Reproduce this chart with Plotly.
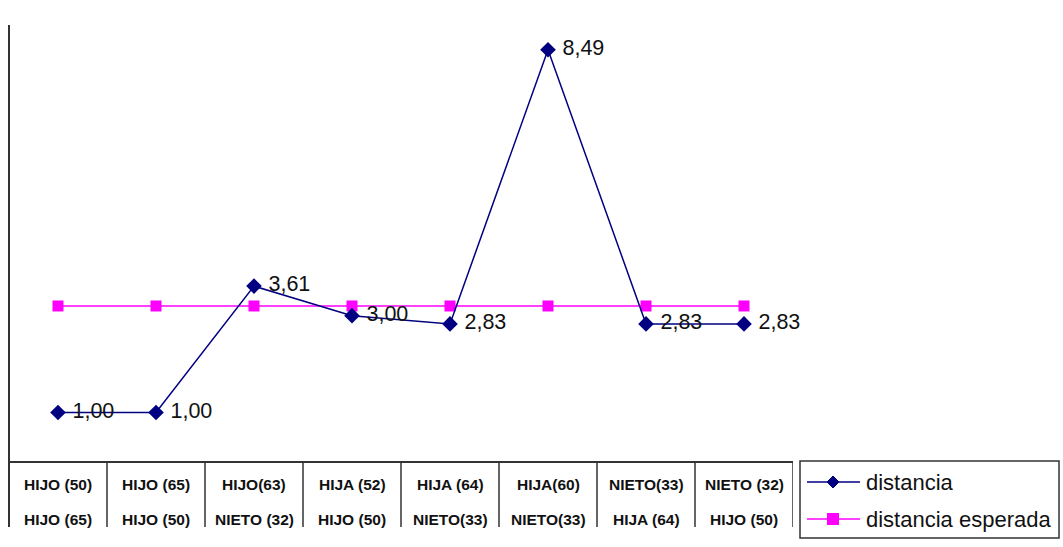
import plotly.graph_objects as go

# Pairs compared (two rows of the data table under the chart)
pair_top = ["HIJO (50)", "HIJO (65)", "HIJO(63)", "HIJA (52)", "HIJA (64)", "HIJA(60)", "NIETO(33)", "NIETO (32)"]
pair_bottom = ["HIJO (65)", "HIJO (50)", "NIETO (32)", "HIJO (50)", "NIETO(33)", "NIETO(33)", "HIJA (64)", "HIJO (50)"]

distancia = [1.00, 1.00, 3.61, 3.00, 2.83, 8.49, 2.83, 2.83]
distancia_esperada = [3.2, 3.2, 3.2, 3.2, 3.2, 3.2, 3.2, 3.2]

series_names = ["distancia", "distancia esperada"]

NAVY = "#000080"
PINK = "#FF00FF"
GRID = "#333333"
FONT = "Arial, Liberation Sans, sans-serif"

W, H = 1063, 547
L, R, T, B = 9, 270, 25, 86
PW, PH = W - L - R, H - T - B


def px_x(px):
    return (px - L) / PW


def px_y(py):
    return (H - B - py) / PH


xs = list(range(len(distancia)))

fig = go.Figure()
fig.add_trace(go.Scatter(
    x=xs, y=distancia_esperada, mode="lines+markers", name=series_names[1],
    line=dict(color=PINK, width=1.5),
    marker=dict(symbol="square", size=11, color=PINK),
))
fig.add_trace(go.Scatter(
    x=xs, y=distancia, mode="lines+markers+text", name=series_names[0],
    line=dict(color=NAVY, width=1.5),
    marker=dict(symbol="diamond", size=12, color=NAVY),
    text=[" " + f"{v:.2f}".replace(".", ",") for v in distancia],
    textposition="middle right",
    textfont=dict(family=FONT, size=21.5, color="#111111"),
    cliponaxis=False,
))

shapes = []
annotations = []
n = len(xs)
table_bottom = px_y(527)

# left axis line, extended through the table
shapes.append(dict(type="line", xref="paper", yref="paper", x0=0, x1=0, y0=1, y1=table_bottom,
                   line=dict(color=GRID, width=2)))
# category separators of the data table
for k in range(1, n + 1):
    shapes.append(dict(type="line", xref="x", yref="paper", x0=k - 0.5, x1=k - 0.5, y0=0, y1=table_bottom,
                       line=dict(color=GRID, width=1.5)))

table_font = dict(family=FONT, size=15.5, color="#111111", weight="bold")
for i in xs:
    annotations.append(dict(x=i, y=px_y(484), xref="x", yref="paper", text=pair_top[i], showarrow=False,
                            yanchor="middle", font=table_font))
    annotations.append(dict(x=i, y=px_y(519), xref="x", yref="paper", text=pair_bottom[i], showarrow=False,
                            yanchor="middle", font=table_font))

# legend box
shapes.append(dict(type="rect", xref="paper", yref="paper", x0=px_x(800), x1=px_x(1059), y0=px_y(461), y1=px_y(538),
                   line=dict(color=GRID, width=1.5), fillcolor="rgba(0,0,0,0)"))
legend_rows = [(482, NAVY, "diamond", series_names[0]), (519, PINK, "square", series_names[1])]
for py, col, sym, label in legend_rows:
    shapes.append(dict(type="line", xref="paper", yref="paper", x0=px_x(807), x1=px_x(860), y0=px_y(py), y1=px_y(py),
                       line=dict(color=col, width=1.5)))
    if sym == "diamond":
        cx, cy, r = 833, py, 6
        path = "M {} {} L {} {} L {} {} L {} {} Z".format(
            px_x(cx), px_y(cy - r), px_x(cx + r), px_y(cy), px_x(cx), px_y(cy + r), px_x(cx - r), px_y(cy))
        shapes.append(dict(type="path", xref="paper", yref="paper", path=path, fillcolor=col, line=dict(color=col, width=1)))
    else:
        shapes.append(dict(type="rect", xref="paper", yref="paper", x0=px_x(827), x1=px_x(839),
                           y0=px_y(py - 6), y1=px_y(py + 6), fillcolor=col, line=dict(color=col, width=0)))
    annotations.append(dict(x=px_x(864), y=px_y(py), xref="paper", yref="paper", text=label, showarrow=False,
                            xanchor="left", yanchor="middle", font=dict(family=FONT, size=22, color="#111111")))

fig.update_layout(
    width=W, height=H,
    margin=dict(l=L, r=R, t=T, b=B),
    paper_bgcolor="white", plot_bgcolor="white",
    showlegend=False,
    xaxis=dict(range=[-0.5, n - 0.5], showgrid=False, zeroline=False, showticklabels=False, ticks="",
               showline=True, linecolor=GRID, linewidth=1.5, fixedrange=True),
    yaxis=dict(range=[0, 9], showgrid=False, zeroline=False, showticklabels=False, ticks="",
               showline=False, fixedrange=True),
    shapes=shapes,
    annotations=annotations,
)

fig.write_html("out.html")
